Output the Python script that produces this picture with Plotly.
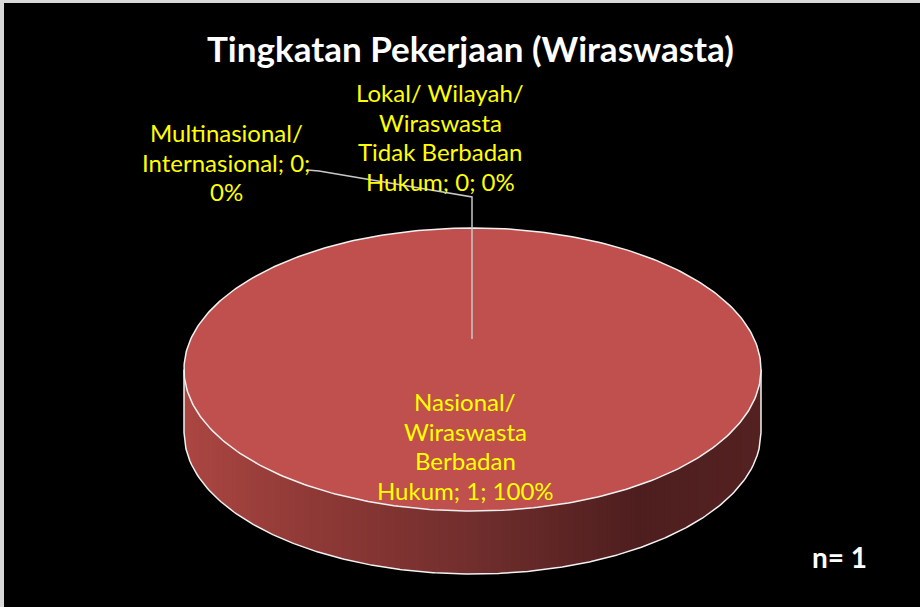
import textwrap
import numpy as np
import plotly.graph_objects as go

# ---------------- data ----------------
categories = [
    "Multinasional/ Internasional",
    "Nasional/ Wiraswasta Berbadan Hukum",
    "Lokal/ Wilayah/ Wiraswasta Tidak Berbadan Hukum",
]
values = [0, 1, 0]
chart_title = "Tingkatan Pekerjaan (Wiraswasta)"
n_text = "n= 1"

# ---------------- style / layout constants ----------------
W, H = 920, 607
CX, CY, RX, RY, DEPTH = 472.5, 369.5, 288.5, 141.5, 63
TOP_COLOR = "#c0504d"
EDGE = "#f2f2f2"
FONT = "Lato"
LABEL_SIZE = 24
LINE_GAP = 29.5
wrap_widths = [17, 14, 15]
label_pos = [(226, 162), (465, 446), (440, 137)]
side_stops = [(0.0, (170, 70, 66)), (0.2, (145, 58, 55)), (0.5, (112, 46, 45)),
              (0.78, (78, 30, 30)), (1.0, (84, 33, 33))]

total = sum(values)
fracs = [v / total for v in values]

fig = go.Figure()


def side_color(t):
    for (t0, c0), (t1, c1) in zip(side_stops[:-1], side_stops[1:]):
        if t0 <= t <= t1:
            k = (t - t0) / (t1 - t0) if t1 > t0 else 0
            c = [round(a + (b - a) * k) for a, b in zip(c0, c1)]
            return f"rgb({c[0]},{c[1]},{c[2]})"
    c = side_stops[-1][1]
    return f"rgb({c[0]},{c[1]},{c[2]})"


def front_y(x):
    return CY + RY * np.sqrt(np.clip(1 - ((x - CX) / RX) ** 2, 0, 1))


# side of the 3D pie (vertical gradient strips)
N = 120
edges = np.linspace(CX - RX, CX + RX, N + 1)
for i in range(N):
    x0, x1 = edges[i], min(edges[i + 1] + 0.9, CX + RX)
    xs = np.linspace(x0, x1, 4)
    top = front_y(xs)
    bot = top + DEPTH
    px = np.concatenate([xs, xs[::-1]])
    py = np.concatenate([top, bot[::-1]])
    fig.add_trace(go.Scatter(x=px, y=py, mode="lines", fill="toself",
                             fillcolor=side_color((edges[i] - edges[0]) / (2 * RX)),
                             line=dict(width=0), hoverinfo="skip"))

# side outline
xs = np.linspace(CX - RX, CX + RX, 300)
fig.add_trace(go.Scatter(
    x=np.concatenate([[CX - RX], xs, [CX + RX]]),
    y=np.concatenate([[CY], front_y(xs) + DEPTH, [CY]]),
    mode="lines", line=dict(color=EDGE, width=1.5), hoverinfo="skip"))

# top face slices (clockwise from 12 o'clock)
start = 0.0
mids = []
for name, f in zip(categories, fracs):
    sweep = f * 2 * np.pi
    mids.append(start + sweep / 2)
    if f > 0:
        t = np.linspace(start, start + sweep, max(int(400 * f), 2))
        px = CX + RX * np.sin(t)
        py = CY - RY * np.cos(t)
        if f < 1:
            px = np.concatenate([[CX], px, [CX]])
            py = np.concatenate([[CY], py, [CY]])
        fig.add_trace(go.Scatter(x=px, y=py, mode="lines", fill="toself",
                                 fillcolor=TOP_COLOR, line=dict(color=EDGE, width=1.5),
                                 hoverinfo="skip", name=name))
    start += sweep

# leader lines for the zero slices
lx = CX + RX * np.sin(mids[0]) - 0.5
fig.add_trace(go.Scatter(x=[307, 319, lx, lx], y=[170, 171, 197, 339], mode="lines",
                         line=dict(color="#c8c8c8", width=1.5), hoverinfo="skip"))

# data labels (one annotation per wrapped line for exact line spacing)
for name, v, f, w, (ax, ay) in zip(categories, values, fracs, wrap_widths, label_pos):
    lines = textwrap.wrap(f"{name}; {v}; {f:.0%}", w)
    n = len(lines)
    for i, ln in enumerate(lines):
        fig.add_annotation(x=ax, y=ay + (i - (n - 1) / 2) * LINE_GAP, xref="x", yref="y",
                           showarrow=False, text=ln, align="center",
                           font=dict(family=FONT, size=LABEL_SIZE, color="#ffff00"))

fig.add_annotation(x=470, y=48, xref="x", yref="y", showarrow=False, text=f"<b>{chart_title}</b>",
                   font=dict(family=FONT, size=35, color="white"))
fig.add_annotation(x=839, y=557, xref="x", yref="y", showarrow=False, text=f"<b>{n_text}</b>",
                   font=dict(family=FONT, size=28, color="white"))

# frame (top / left edges visible in the reference)
fig.add_shape(type="rect", x0=0, x1=W, y0=0, y1=3, xref="x", yref="y",
              fillcolor="#d9d9d9", line=dict(width=0), layer="above")
fig.add_shape(type="rect", x0=0, x1=4, y0=0, y1=H, xref="x", yref="y",
              fillcolor="#d9d9d9", line=dict(width=0), layer="above")

fig.update_layout(
    width=W, height=H, margin=dict(l=0, r=0, t=0, b=0),
    paper_bgcolor="black", plot_bgcolor="black", showlegend=False,
    xaxis=dict(range=[0, W], visible=False, fixedrange=True),
    yaxis=dict(range=[H, 0], visible=False, fixedrange=True),
)
fig.write_html("out.html", config={"displayModeBar": False},
               post_script="document.body.style.margin='0';document.body.style.background='black';")
